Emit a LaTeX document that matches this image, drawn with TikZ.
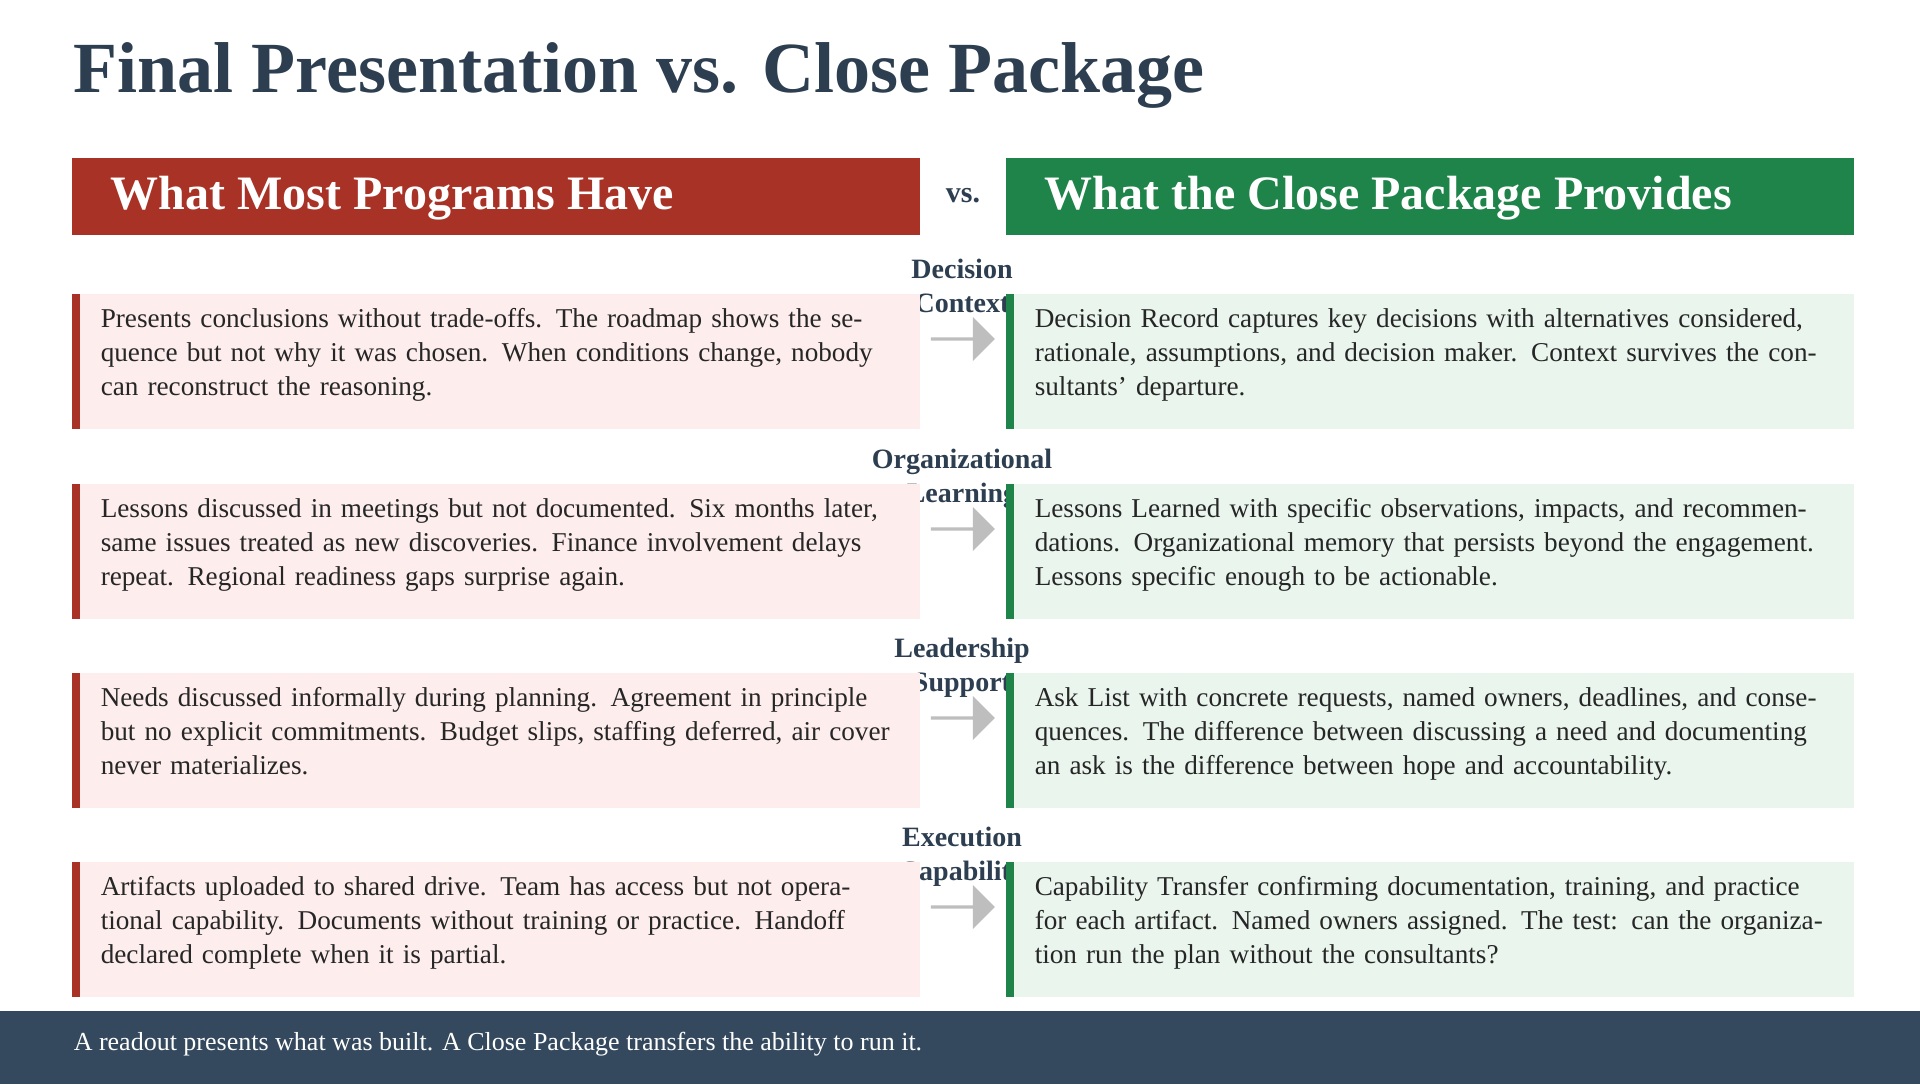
\documentclass[tikz,border=0pt]{standalone}
\usepackage{fontspec}
\setmainfont{Liberation Serif}
\usetikzlibrary{shapes.arrows}
\definecolor{titleblue}{RGB}{44,62,80}
\definecolor{leftred}{RGB}{169,50,38}
\definecolor{rightgreen}{RGB}{30,132,73}
\definecolor{leftfill}{RGB}{253,237,236}
\definecolor{rightfill}{RGB}{234,245,238}
\definecolor{footgray}{RGB}{52,73,94}
\definecolor{arrowgray}{RGB}{190,190,190}
\tikzset{
  every picture/.style={line width=0.75pt},
  headtext/.style={anchor=west,inner sep=0pt,text=white,font=\bfseries\fontsize{24}{28}\selectfont},
  bodytext/.style={anchor=north west,inner sep=0pt,text width=400pt,align=left,text=black!85,font=\fontsize{13.6}{17}\selectfont},
  cattext/.style={anchor=north,inner sep=0pt,align=center,text=titleblue,font=\bfseries\fontsize{14}{17}\selectfont},
  grayarrow/.style={single arrow,fill=arrowgray,draw=none,minimum width=22pt,minimum height=32pt,single arrow head extend=5pt,inner sep=0pt},
}
\begin{document}
\begin{tikzpicture}[x=0.5pt,y=0.5pt,yscale=-1,xscale=1]
\useasboundingbox (0,0) rectangle (1920,1084);
\fill[white] (0,0) rectangle (1920,1084);

% Title
\node (title) [anchor=base west,inner sep=0pt,text=titleblue,font=\bfseries\fontsize{36}{40}\selectfont] at (73,92) {Final Presentation vs. Close Package};

% Header bars
\fill[leftred] (72,158) rectangle (920,235);
\fill[rightgreen] (1006,158) rectangle (1854,235);
\node (hleft) [headtext] at (110,198) {What Most Programs Have};
\node (hright) [headtext] at (1044,198) {What the Close Package Provides};
\node (vs) [text=titleblue,font=\bfseries\fontsize{15}{18}\selectfont] at (963,196) {vs.};

% Rows
\foreach \y/\cat/\ltext/\rtext in {
 294/{Decision\\Context}/{Presents conclusions without trade-offs. The roadmap shows the sequence but not why it was chosen. When conditions change, nobody can reconstruct the reasoning.}/{Decision Record captures key decisions with alternatives considered, rationale, assumptions, and decision maker. Context survives the consultants' departure.},
 484/{Organizational\\Learning}/{Lessons discussed in meetings but not documented. Six months later, same issues treated as new discoveries. Finance involvement delays repeat. Regional readiness gaps surprise again.}/{Lessons Learned with specific observations, impacts, and recommendations. Organizational memory that persists beyond the engagement. Lessons specific enough to be actionable.},
 673/{Leadership\\Support}/{Needs discussed informally during planning. Agreement in principle but no explicit commitments. Budget slips, staffing deferred, air cover never materializes.}/{Ask List with concrete requests, named owners, deadlines, and consequences. The difference between discussing a need and documenting an ask is the difference between hope and accountability.},
 862/{Execution\\Capability}/{Artifacts uploaded to shared drive. Team has access but not operational capability. Documents without training or practice. Handoff declared complete when it is partial.}/{Capability Transfer confirming documentation, training, and practice for each artifact. Named owners assigned. The test: can the organization run the plan without the consultants?}
}{
  % Category label
  \node (cat\y) [cattext] at (962,\y-36) {\cat};
  % Left and right boxes
  \fill[leftfill] (72,\y) rectangle (920,\y+135);
  \fill[leftred] (72,\y) rectangle (80,\y+135);
  \fill[rightfill] (1006,\y) rectangle (1854,\y+135);
  \fill[rightgreen] (1006,\y) rectangle (1014,\y+135);
  \node (left\y) [bodytext] at (100,\y+14) {\ltext};
  \node (right\y) [bodytext] at (1034,\y+14) {\rtext};
  % Arrow
  \node (arr\y) [grayarrow] at (962,\y+45) {};
}

% Footer
\fill[footgray] (0,1011) rectangle (1920,1084);
\node (foot) [anchor=base west,inner sep=0pt,text=white,font=\fontsize{13}{16}\selectfont] at (73,1050) {A readout presents what was built. A Close Package transfers the ability to run it.};
\end{tikzpicture}
\end{document}
